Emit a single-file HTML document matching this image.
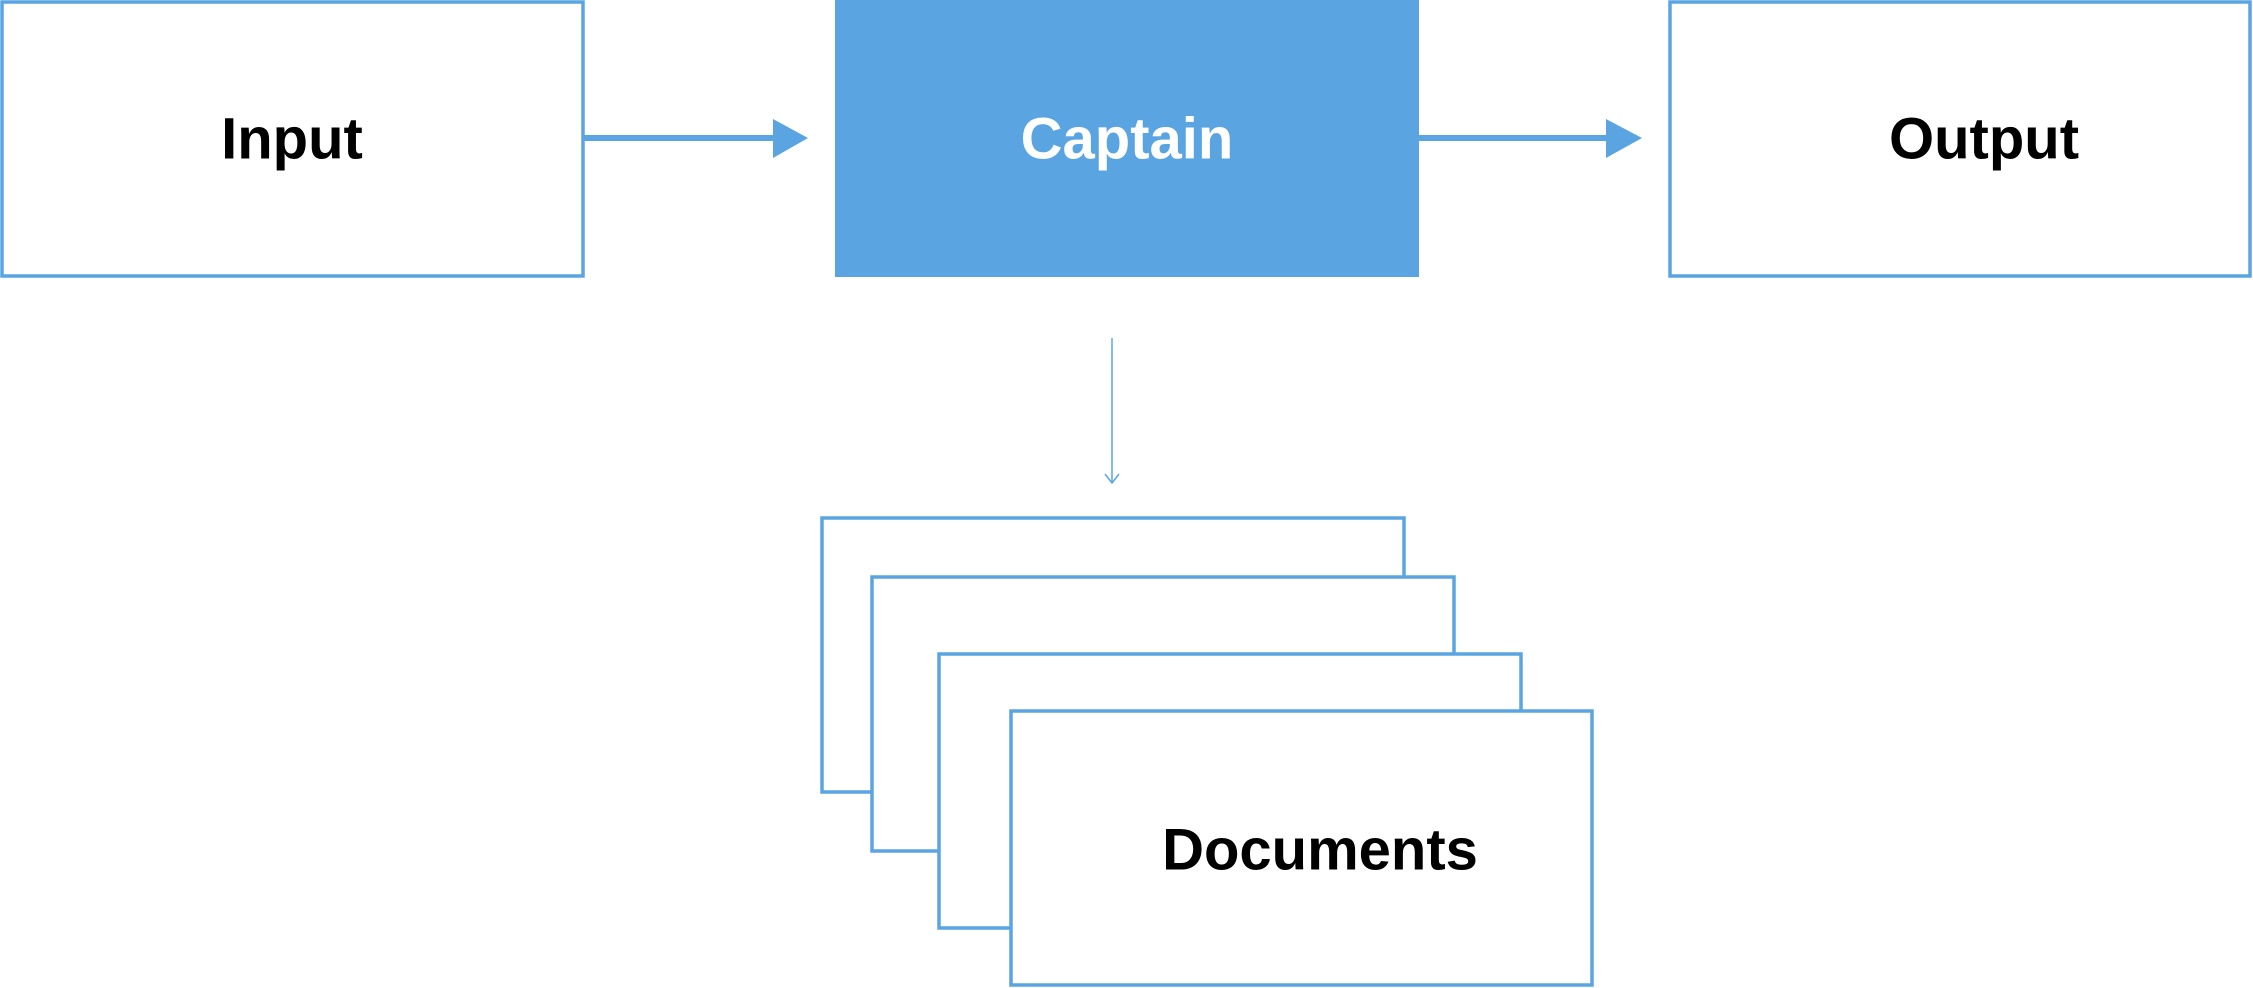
<!DOCTYPE html>
<html><head><meta charset="utf-8"><style>
html,body{margin:0;padding:0;background:#fff;}
svg{display:block;}
text{font-family:"Liberation Sans",sans-serif;font-weight:bold;font-size:58px;text-anchor:middle;dominant-baseline:central;}
</style></head><body>
<svg width="2253" height="988" viewBox="0 0 2253 988" xmlns="http://www.w3.org/2000/svg">
<g fill="#fff" stroke="#5aa5e1" stroke-width="3.5">
<rect x="2" y="2" width="581" height="274"/>
<rect x="1670" y="2" width="580" height="274"/>
<rect x="822" y="518" width="582" height="274"/>
<rect x="872" y="577" width="582" height="274"/>
<rect x="939" y="654" width="582" height="274"/>
<rect x="1011" y="711" width="581" height="274"/>
</g>
<rect x="835" y="0" width="584" height="277" fill="#5aa5e1"/>
<g fill="#5aa5e1">
<rect x="583" y="135" width="192" height="6"/>
<polygon points="773,119 808,138 773,158"/>
<rect x="1419" y="135" width="190" height="6"/>
<polygon points="1606,119 1642,138 1606,158"/>
</g>
<line x1="1112" y1="338" x2="1112" y2="483" stroke="#5aa5e1" stroke-width="1.5"/>
<polyline points="1105,474 1112,483 1119,474" fill="none" stroke="#5aa5e1" stroke-width="1.5"/>
<text x="292" y="139" fill="#000">Input</text>
<text x="1127" y="139" fill="#fff">Captain</text>
<text x="1984" y="139" fill="#000">Output</text>
<text x="1320" y="850" fill="#000">Documents</text>
</svg>
</body></html>
